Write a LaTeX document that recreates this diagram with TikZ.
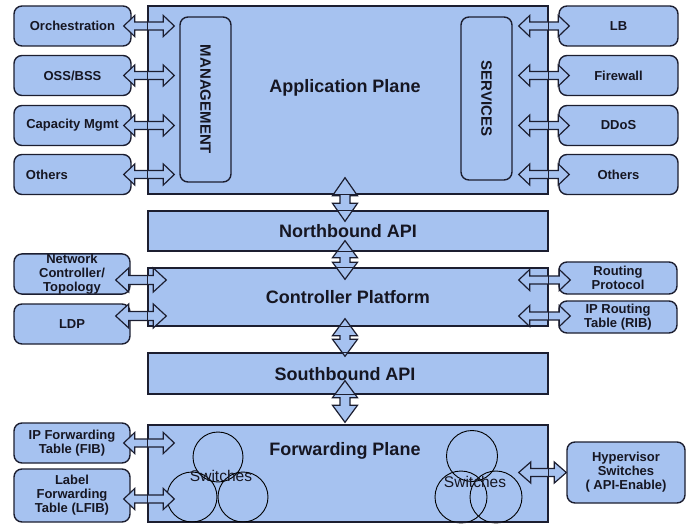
\documentclass[tikz,border=0pt]{standalone}
\usepackage{fontspec}
\setmainfont{Liberation Sans}
\usetikzlibrary{calc}
\definecolor{pfill}{RGB}{166,194,240}
\definecolor{pline}{RGB}{28,30,48}
\definecolor{ptext}{RGB}{22,22,34}
% horizontal fat double arrow: from, to, head length, half head width, half shaft width
\newcommand\hdarr[5]{%
  \draw[fatarr] let \p1=(#1), \p2=(#2) in
  (\x1,\y1) -- (\x1+#3,\y1+#4) -- (\x1+#3,\y1+#5) -- (\x2-#3,\y1+#5) -- (\x2-#3,\y1+#4) -- (\x2,\y1)
  -- (\x2-#3,\y1-#4) -- (\x2-#3,\y1-#5) -- (\x1+#3,\y1-#5) -- (\x1+#3,\y1-#4) -- cycle;}
% vertical fat double arrow: from (top), to (bottom), head length, half head width, half shaft width
\newcommand\vdarr[5]{%
  \draw[fatarr] let \p1=(#1), \p2=(#2) in
  (\x1,\y1) -- (\x1+#4,\y1-#3) -- (\x1+#5,\y1-#3) -- (\x1+#5,\y2+#3) -- (\x1+#4,\y2+#3) -- (\x1,\y2)
  -- (\x1-#4,\y2+#3) -- (\x1-#5,\y2+#3) -- (\x1-#5,\y1-#3) -- (\x1-#4,\y1-#3) -- cycle;}
\begin{document}
\begin{tikzpicture}[x=1pt,y=-1pt,
  plane/.style={draw=pline, line width=1.4pt, fill=pfill, minimum width=400pt, inner sep=0pt},
  border/.style={draw=pline, line width=1.4pt},
  big/.style={text=ptext, font=\fontsize{18}{20}\selectfont\bfseries},
  sbox/.style={draw=pline, line width=1.4pt, fill=pfill, rounded corners=8pt, text=ptext,
    align=center, font=\fontsize{13}{14}\selectfont\bfseries, inner sep=0pt},
  lbox/.style={sbox, minimum width=117pt, minimum height=40pt},
  rbox/.style={sbox, minimum width=119pt, minimum height=40pt},
  vbox/.style={draw=pline, line width=1.4pt, rounded corners=8pt, minimum width=51pt, inner sep=0pt},
  vtext/.style={rotate=-90, text=ptext, font=\fontsize{15}{17}\selectfont\bfseries},
  fatarr/.style={draw=pline, line width=1.2pt, fill=pfill, line join=miter},
  sw/.style={draw=black, line width=0.9pt, circle, inner sep=0pt},
  swtext/.style={text=ptext, font=\fontsize{15.5}{17}\selectfont}
]
\useasboundingbox (0,0) rectangle (689,524);

% ---------- planes ----------
\node[plane, minimum height=188pt] (app) at (348,100) {};
\node[plane, minimum height=40pt, big] (nb) at (348,231) {Northbound API};
\node[plane, minimum height=58pt, big] (ctrl) at (348,297) {Controller Platform};
\node[plane, minimum height=41pt] (sb) at (348,373.5) {};
\node[plane, minimum height=97pt] (fwd) at (348,473.5) {};
\node[big] (apptitle) at (345,88) {Application Plane};
\node[big] (sbtitle) at (345,374) {Southbound API};
\node[big] (fwdtitle) at (345,451) {Forwarding Plane};

% ---------- management / services ----------
\node[vbox, minimum height=165pt] (mgmt) at (205.5,99.5) {};
\node[vtext] (mgmtlbl) at (mgmt.center) {MANAGEMENT};
\node[vbox, minimum height=163pt] (svc) at (486.5,98.5) {};
\node[vtext] (svclbl) at (svc.center) {SERVICES};

% ---------- application side boxes ----------
\node[lbox] (orch) at (72.5,26) {Orchestration};
\node[lbox] (oss) at (72.5,75.5) {OSS/BSS};
\node[lbox] (cap) at (72.5,125.5) {Capacity Mgmt};
\node[lbox, text width=93pt, align=left, inner xsep=12pt] (oth1) at (72.5,174.5) {Others};
\node[rbox] (lb) at (618.5,26) {LB};
\node[rbox] (fw) at (618.5,75.5) {Firewall};
\node[rbox] (ddos) at (618.5,125.5) {DDoS};
\node[rbox] (oth2) at (618.5,174.5) {Others};

% ---------- controller side boxes ----------
\node[sbox, minimum width=116pt, minimum height=40pt] (nct) at (72,274) {Network\\Controller/\\Topology};
\node[sbox, minimum width=116pt, minimum height=40pt] (ldp) at (72,324) {LDP};
\node[sbox, minimum width=118pt, minimum height=32pt] (rp) at (618,278) {Routing\\Protocol};
\node[sbox, minimum width=118pt, minimum height=32pt] (rib) at (618,317) {IP Routing\\Table (RIB)};

% ---------- forwarding side boxes ----------
\node[sbox, minimum width=116pt, minimum height=40pt] (fib) at (72,443) {IP Forwarding\\Table (FIB)};
\node[sbox, minimum width=116pt, minimum height=53pt] (lfib) at (72,495.5) {Label\\Forwarding\\Table (LFIB)};
\node[sbox, minimum width=118pt, minimum height=61pt] (hyp) at (626,472.5) {Hypervisor\\Switches\\( API-Enable)};

% ---------- switches ----------
\node[sw, minimum size=50pt] (c1) at (218,457) {};
\node[sw, minimum size=50pt] (c2) at (192,497) {};
\node[sw, minimum size=50pt] (c3) at (243,497) {};
\node[swtext] (sw1) at (221,476) {Switches};
\node[sw, minimum size=51pt] (c4) at (472,456) {};
\node[sw, minimum size=52pt] (c5) at (461,497) {};
\node[sw, minimum size=52pt] (c6) at (496,497) {};
\node[swtext] (sw2) at (475,482) {Switches};

% ---------- horizontal arrows: application plane ----------
\hdarr{$(orch.east)+(-8,0)$}{$(mgmt.west |- orch.east)+(-5,0)$}{11pt}{10.5pt}{4pt}
\hdarr{$(oss.east)+(-8,0)$}{$(mgmt.west |- oss.east)+(-5,0)$}{11pt}{10.5pt}{4pt}
\hdarr{$(cap.east)+(-8,0)$}{$(mgmt.west |- cap.east)+(-5,0)$}{11pt}{10.5pt}{4pt}
\hdarr{$(oth1.east)+(-8,0)$}{$(mgmt.west |- oth1.east)+(-5,0)$}{11pt}{10.5pt}{4pt}
\hdarr{$(svc.east |- lb.west)+(6,0)$}{$(lb.west)+(11,0)$}{11pt}{10.5pt}{4pt}
\hdarr{$(svc.east |- fw.west)+(6,0)$}{$(fw.west)+(11,0)$}{11pt}{10.5pt}{4pt}
\hdarr{$(svc.east |- ddos.west)+(6,0)$}{$(ddos.west)+(11,0)$}{11pt}{10.5pt}{4pt}
\hdarr{$(svc.east |- oth2.west)+(6,0)$}{$(oth2.west)+(11,0)$}{11pt}{10.5pt}{4pt}

% ---------- horizontal arrows: controller ----------
\hdarr{$(nct.east)+(-15,6)$}{$(ctrl.west |- nct.east)+(19,6)$}{13pt}{12pt}{4.5pt}
\hdarr{$(ldp.east)+(-15,-8)$}{$(ctrl.west |- ldp.east)+(19,-8)$}{13pt}{12pt}{4.5pt}
\hdarr{$(ctrl.east |- rp.west)+(-30,2)$}{$(rp.west)+(12,2)$}{11pt}{10.5pt}{4pt}
\hdarr{$(ctrl.east |- rib.west)+(-30,-1)$}{$(rib.west)+(12,-1)$}{11pt}{10.5pt}{4pt}

% ---------- horizontal arrows: forwarding ----------
\hdarr{$(fib.east)+(-7,0)$}{$(fwd.west |- fib.east)+(27,0)$}{11pt}{10.5pt}{4pt}
\hdarr{$(lfib.east)+(-7,3.5)$}{$(fwd.west |- lfib.east)+(27,3.5)$}{11pt}{10.5pt}{4pt}
\hdarr{$(fwd.east |- hyp.west)+(-30,0)$}{$(hyp.west)$}{12pt}{10.5pt}{4pt}

% ---------- vertical arrows ----------
\vdarr{$(app.south)+(-3,-17)$}{$(nb.north)+(-3,11)$}{18pt}{12.5pt}{5pt}
\vdarr{$(nb.south)+(-3,-11)$}{$(ctrl.north)+(-3,12)$}{17pt}{12.5pt}{5pt}
\vdarr{$(ctrl.south)+(-3,-8)$}{$(sb.north)+(-3,4)$}{17pt}{12.5pt}{5pt}
\vdarr{$(sb.south)+(-3,-14)$}{$(fwd.north)+(-3,-2)$}{17pt}{12.5pt}{5pt}

% ---------- plane borders on top of arrows ----------
\draw[border] (app.north west) rectangle (app.south east);
\draw[border] (nb.north west) rectangle (nb.south east);
\draw[border] (ctrl.north west) rectangle (ctrl.south east);
\draw[border] (sb.north west) rectangle (sb.south east);
\draw[border] (fwd.north west) rectangle (fwd.south east);
\end{tikzpicture}
\end{document}
